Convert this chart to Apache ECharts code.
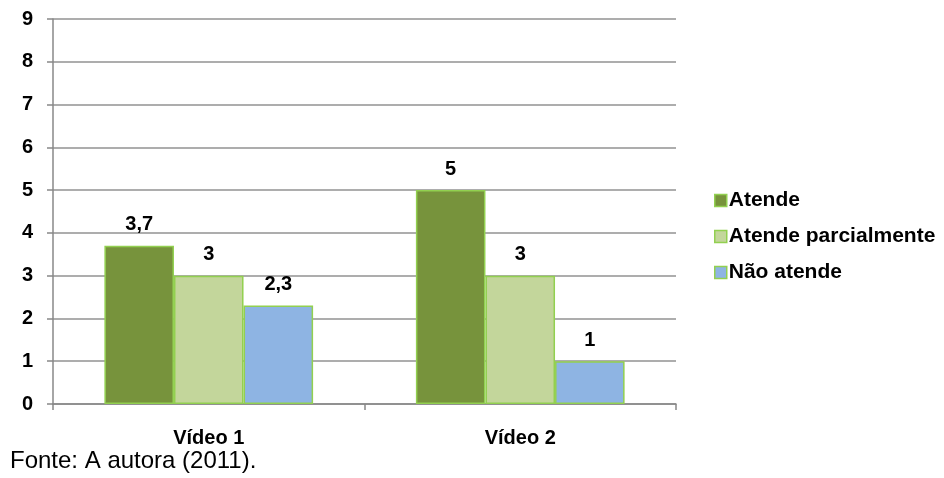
<!DOCTYPE html>
<html><head><meta charset="utf-8">
<script src="https://cdn.jsdelivr.net/npm/echarts@6/dist/echarts.min.js"></script>
<style>html,body{margin:0;padding:0;background:#fff}#c{width:944px;height:478px}</style>
</head><body><div id="c"></div>
<script>
const categories = ['Vídeo 1', 'Vídeo 2'];
const atende = [3.7, 5];
const parcial = [3, 3];
const naoAtende = [2.3, 1];
const seriesNames = ['Atende', 'Atende parcialmente', 'Não atende'];
const yTicks = [0, 1, 2, 3, 4, 5, 6, 7, 8, 9];

const font = 'Liberation Sans, Arial, sans-serif';
const colors = ['#77933C', '#C3D69B', '#8EB4E3'];
const lbl = {show: true, position: 'top', distance: 11, color: '#000', fontWeight: 'bold', fontSize: 20, fontFamily: font,
  formatter: p => String(p.value).replace('.', ',')};
function mk(name, data, i) {
  return {name, type: 'bar', data, barGap: '0%', barCategoryGap: '33%',
    itemStyle: {color: colors[i], borderColor: '#92D050', borderWidth: 1.5}, label: lbl};
}
const chart = echarts.init(document.getElementById('c'));
chart.setOption({
  animation: false,
  textStyle: {fontFamily: font},
  grid: {left: 53, right: 268, top: 19, bottom: 74},
  legend: {orient: 'vertical', left: 709, top: 185, itemGap: 15, itemWidth: 12, itemHeight: 12, itemStyle: {},
    icon: 'rect', textStyle: {fontSize: 21, fontWeight: 'bold', color: '#000', fontFamily: font, padding: [0, 0, 0, -3]},
    data: seriesNames.map((n, i) => ({name: n, itemStyle: {borderColor: '#92D050', borderWidth: 1.5}}))},
  xAxis: {type: 'category', data: categories,
    axisLine: {lineStyle: {color: '#888', width: 1.5}},
    axisTick: {show: true, length: 6, lineStyle: {color: '#888', width: 1.5}},
    axisLabel: {color: '#000', fontWeight: 'bold', fontSize: 20, margin: 24, fontFamily: font}},
  yAxis: {type: 'value', min: yTicks[0], max: yTicks[yTicks.length - 1], interval: 1,
    axisLine: {show: true, lineStyle: {color: '#888', width: 1.5}},
    axisTick: {show: true, length: 6, lineStyle: {color: '#888', width: 1.5}},
    splitLine: {lineStyle: {color: '#929292', width: 1.5}},
    axisLabel: {color: '#000', fontWeight: 'bold', fontSize: 20, margin: 20, fontFamily: font}},
  series: [mk(seriesNames[0], atende, 0), mk(seriesNames[1], parcial, 1), mk(seriesNames[2], naoAtende, 2)],
  graphic: [{type: 'text', left: 10, top: 449, style: {text: 'Fonte: A autora (2011).', fontSize: 24, fontFamily: font, fill: '#000'}}]
});
</script></body></html>
